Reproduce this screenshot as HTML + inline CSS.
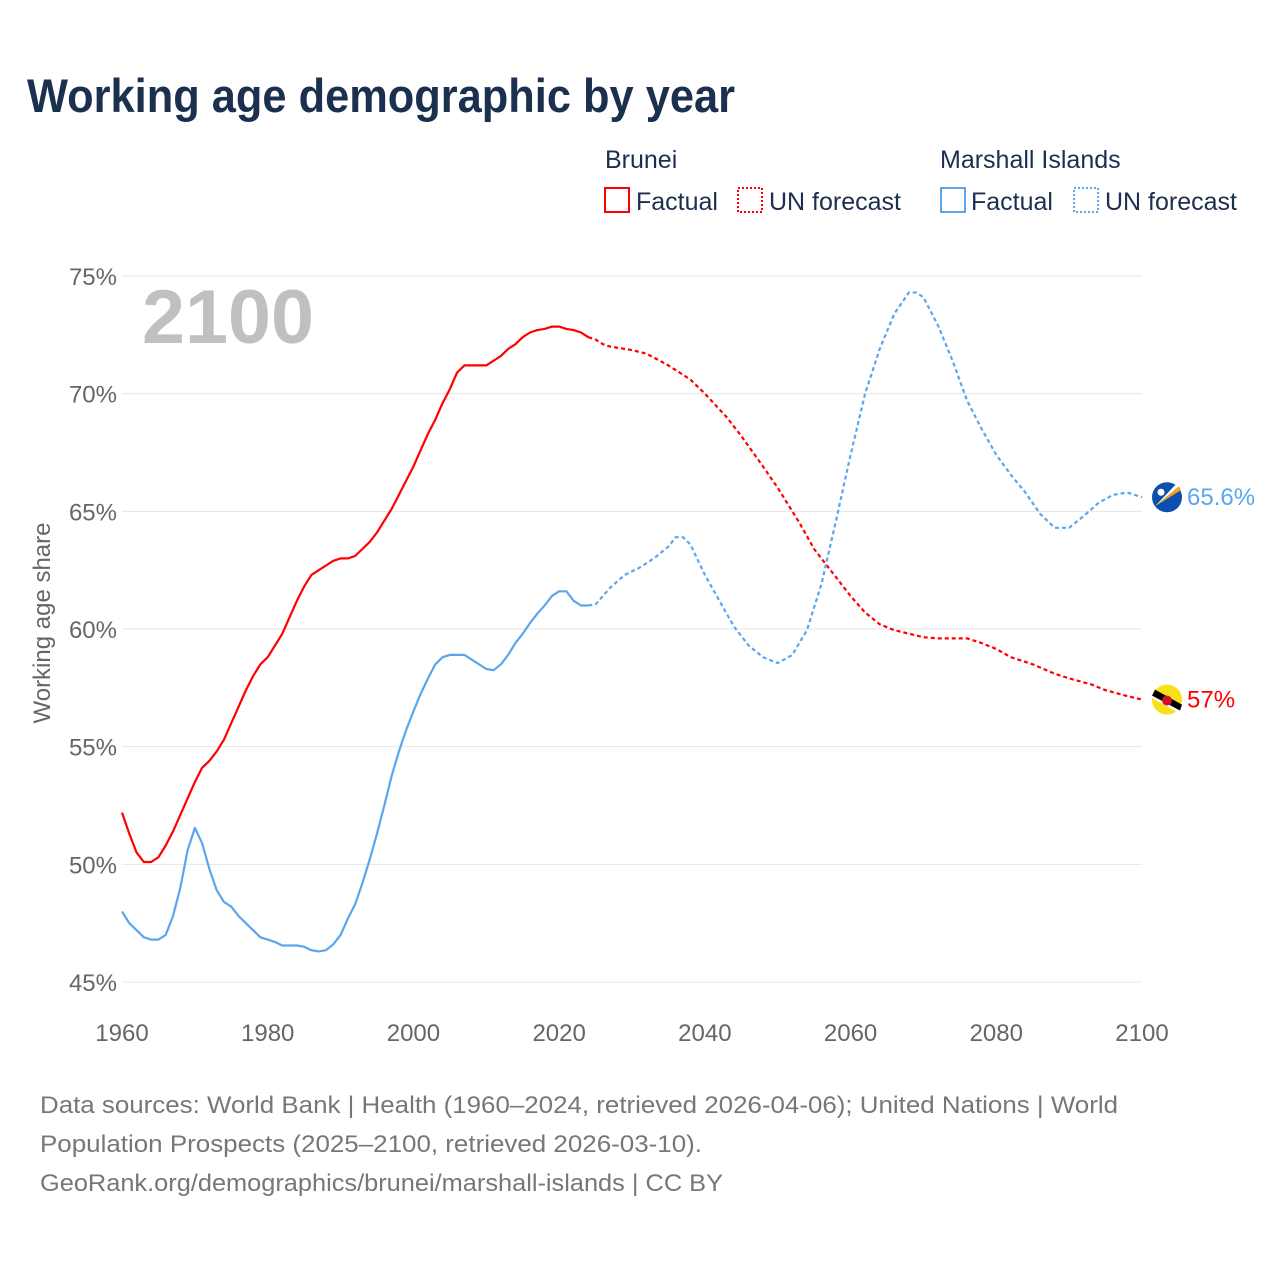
<!DOCTYPE html>
<html><head><meta charset="utf-8">
<style>
html,body{margin:0;padding:0;background:#fff;}
body{width:1280px;height:1280px;position:relative;font-family:"Liberation Sans",sans-serif;overflow:hidden;}
</style></head>
<body>
<svg id="chart" width="1280" height="1280" xmlns="http://www.w3.org/2000/svg" style="position:absolute;left:0;top:0">
<text x="27" y="112" font-size="47" font-weight="bold" fill="#1b2f4e" textLength="708" lengthAdjust="spacingAndGlyphs">Working age demographic by year</text>
<g font-size="25" fill="#1b2f4e">
<text x="605" y="168">Brunei</text>
<text x="940" y="168">Marshall Islands</text>
<g><rect x="605" y="188" width="24" height="24" fill="none" stroke="#ff0000" stroke-width="2"/><text x="636" y="210">Factual</text></g>
<g><rect x="738" y="188" width="24" height="24" fill="none" stroke="#ff0000" stroke-width="2" stroke-dasharray="2,2"/><text x="769" y="210">UN forecast</text></g>
<g><rect x="941" y="188" width="24" height="24" fill="none" stroke="#5aa6ee" stroke-width="2"/><text x="971" y="210">Factual</text></g>
<g><rect x="1074" y="188" width="24" height="24" fill="none" stroke="#5aa6ee" stroke-width="2" stroke-dasharray="2,2"/><text x="1105" y="210">UN forecast</text></g>
</g>
<g id="grid"></g>
<text x="142" y="343" font-size="76" font-weight="bold" fill="#c0c0c0" textLength="172" lengthAdjust="spacingAndGlyphs">2100</text>
<text transform="translate(50,623) rotate(-90)" text-anchor="middle" font-size="24" fill="#666">Working age share</text>
<g id="series"></g>
<g font-size="24" fill="#777">
<text x="40" y="1113" textLength="1078" lengthAdjust="spacingAndGlyphs">Data sources: World Bank | Health (1960–2024, retrieved 2026-04-06); United Nations | World</text>
<text x="40" y="1152" textLength="662" lengthAdjust="spacingAndGlyphs">Population Prospects (2025–2100, retrieved 2026-03-10).</text>
<text x="40" y="1191" textLength="683" lengthAdjust="spacingAndGlyphs">GeoRank.org/demographics/brunei/marshall-islands | CC BY</text>
</g>
</svg>
<script>
const yTicks=[45,50,55,60,65,70,75];
const xTicks=[1960,1980,2000,2020,2040,2060,2080,2100];
const bruneiYears=[1960,1961,1962,1963,1964,1965,1966,1967,1968,1969,1970,1971,1972,1973,1974,1975,1976,1977,1978,1979,1980,1981,1982,1983,1984,1985,1986,1987,1988,1989,1990,1991,1992,1993,1994,1995,1996,1997,1998,1999,2000,2001,2002,2003,2004,2005,2006,2007,2008,2009,2010,2011,2012,2013,2014,2015,2016,2017,2018,2019,2020,2021,2022,2023,2024];
const bruneiValues=[52.2,51.3,50.5,50.1,50.1,50.3,50.8,51.4,52.1,52.8,53.5,54.1,54.4,54.8,55.3,56.0,56.7,57.4,58.0,58.5,58.8,59.3,59.8,60.5,61.2,61.8,62.3,62.5,62.7,62.9,63.0,63.0,63.1,63.4,63.7,64.1,64.6,65.1,65.7,66.3,66.9,67.6,68.3,68.9,69.6,70.2,70.9,71.2,71.2,71.2,71.2,71.4,71.6,71.9,72.1,72.4,72.6,72.7,72.75,72.85,72.85,72.75,72.7,72.6,72.4];
const bruneiFcYears=[2024,2025,2026,2027,2030,2032,2035,2038,2040,2043,2045,2048,2050,2053,2055,2058,2060,2062,2064,2066,2068,2070,2072,2076,2078,2080,2082,2085,2088,2090,2093,2095,2098,2100];
const bruneiFcValues=[72.4,72.3,72.1,72.0,71.85,71.7,71.2,70.6,70.0,69.0,68.2,66.9,66.0,64.5,63.4,62.2,61.4,60.7,60.2,59.95,59.8,59.65,59.6,59.6,59.4,59.15,58.8,58.5,58.1,57.9,57.65,57.4,57.15,57.0];
const mhYears=[1960,1961,1962,1963,1964,1965,1966,1967,1968,1969,1970,1971,1972,1973,1974,1975,1976,1977,1978,1979,1980,1981,1982,1983,1984,1985,1986,1987,1988,1989,1990,1991,1992,1993,1994,1995,1996,1997,1998,1999,2000,2001,2002,2003,2004,2005,2006,2007,2008,2009,2010,2011,2012,2013,2014,2015,2016,2017,2018,2019,2020,2021,2022,2023,2024];
const mhValues=[48.0,47.5,47.2,46.9,46.8,46.8,47.0,47.8,49.0,50.6,51.55,50.9,49.8,48.9,48.4,48.2,47.8,47.5,47.2,46.9,46.8,46.7,46.55,46.55,46.55,46.5,46.35,46.3,46.35,46.6,47.0,47.7,48.3,49.2,50.2,51.3,52.5,53.75,54.8,55.7,56.5,57.25,57.9,58.5,58.8,58.9,58.9,58.9,58.7,58.5,58.3,58.25,58.5,58.9,59.4,59.8,60.25,60.65,61.0,61.4,61.6,61.6,61.2,61.0,61.0];
const mhFcYears=[2024,2025,2027,2029,2031,2033,2035,2036,2037,2038,2040,2042,2044,2046,2048,2050,2052,2054,2056,2058,2060,2062,2064,2066,2068,2069,2070,2072,2074,2076,2078,2080,2082,2084,2086,2088,2090,2092,2094,2096,2098,2100];
const mhFcValues=[61.0,61.05,61.75,62.3,62.6,63.0,63.5,63.9,63.9,63.6,62.3,61.2,60.1,59.3,58.8,58.55,58.9,59.95,61.9,64.6,67.4,70.0,71.9,73.4,74.3,74.3,74.1,72.9,71.4,69.7,68.5,67.4,66.55,65.8,64.9,64.3,64.3,64.8,65.35,65.7,65.8,65.6];

const NS='http://www.w3.org/2000/svg';
const X=y=>122+(y-1960)*(1020/140);
const Y=v=>276+(75-v)*(706/30);
function mk(tag,attrs,parent){const e=document.createElementNS(NS,tag);for(const k in attrs)e.setAttribute(k,attrs[k]);parent.appendChild(e);return e;}
const grid=document.getElementById('grid');
yTicks.forEach(t=>{
  const l=mk('line',{x1:122,x2:1142,y1:Y(t),y2:Y(t),stroke:'#e6e6e6','stroke-width':1},grid);
  
  
  const tx=mk('text',{x:117,y:Y(t)+9,'text-anchor':'end','font-size':24,fill:'#666'},grid);
  tx.textContent=t+'%';
  
  
});
xTicks.forEach(t=>{
  const tx=mk('text',{x:X(t),y:1041,'text-anchor':'middle','font-size':24,fill:'#666'},grid);
  tx.textContent=t;
  
  
});
const ser=document.getElementById('series');
function line(xs,vs,color,dash,name){
  const d=xs.map((x,i)=>(i?'L':'M')+X(x).toFixed(1)+','+Y(vs[i]).toFixed(1)).join('');
  const p=mk('path',{d:d,fill:'none',stroke:color,'stroke-width':2.2,'stroke-linejoin':'round'},ser);
  if(dash)p.setAttribute('stroke-dasharray','4,3');
  
  
}
line(bruneiYears,bruneiValues,'#ff0000',false,'brunei-factual-line');
line(bruneiFcYears,bruneiFcValues,'#ff0000',true,'brunei-forecast-line');
line(mhYears,mhValues,'#5aa6ee',false,'marshall-factual-line');
line(mhFcYears,mhFcValues,'#5aa6ee',true,'marshall-forecast-line');

const bLast=bruneiFcValues[bruneiFcValues.length-1], mLast=mhFcValues[mhFcValues.length-1];
const fx=1167;
const gm=mk('g',{},ser);


mk('circle',{cx:fx,cy:Y(mLast),r:15,fill:'#0b4fb0'},gm);
mk('path',{d:`M${fx-12},${Y(mLast)+9} L${fx+14},${Y(mLast)-7} L${fx+12},${Y(mLast)-11} Z`,fill:'#f7a11a'},gm);
mk('path',{d:`M${fx-12},${Y(mLast)+9} L${fx+12},${Y(mLast)-11} L${fx+9},${Y(mLast)-13} Z`,fill:'#fff'},gm);
mk('circle',{cx:fx-6,cy:Y(mLast)-5,r:3.5,fill:'#fff'},gm);
const gb=mk('g',{},ser);


mk('circle',{cx:fx,cy:Y(bLast),r:15,fill:'#f7e017'},gb);
mk('path',{d:`M${fx-15},${Y(bLast)-4} L${fx+13},${Y(bLast)+11} L${fx+15},${Y(bLast)+5} L${fx-12},${Y(bLast)-10} Z`,fill:'#000'},gb);
mk('path',{d:`M${fx-14},${Y(bLast)-1} L${fx+11},${Y(bLast)+13} L${fx+13},${Y(bLast)+11} L${fx-15},${Y(bLast)-4} Z`,fill:'#fff'},gb);
mk('circle',{cx:fx,cy:Y(bLast)+1,r:5,fill:'#ce1126'},gb);
const lm=mk('text',{x:1187,y:Y(mLast)+8,'font-size':24,fill:'#5aa6ee'},ser);
lm.textContent=mLast+'%';


const lb=mk('text',{x:1187,y:Y(bLast)+8,'font-size':24,fill:'#ff0000'},ser);
lb.textContent=bLast+'%';


</script>
</body></html>
